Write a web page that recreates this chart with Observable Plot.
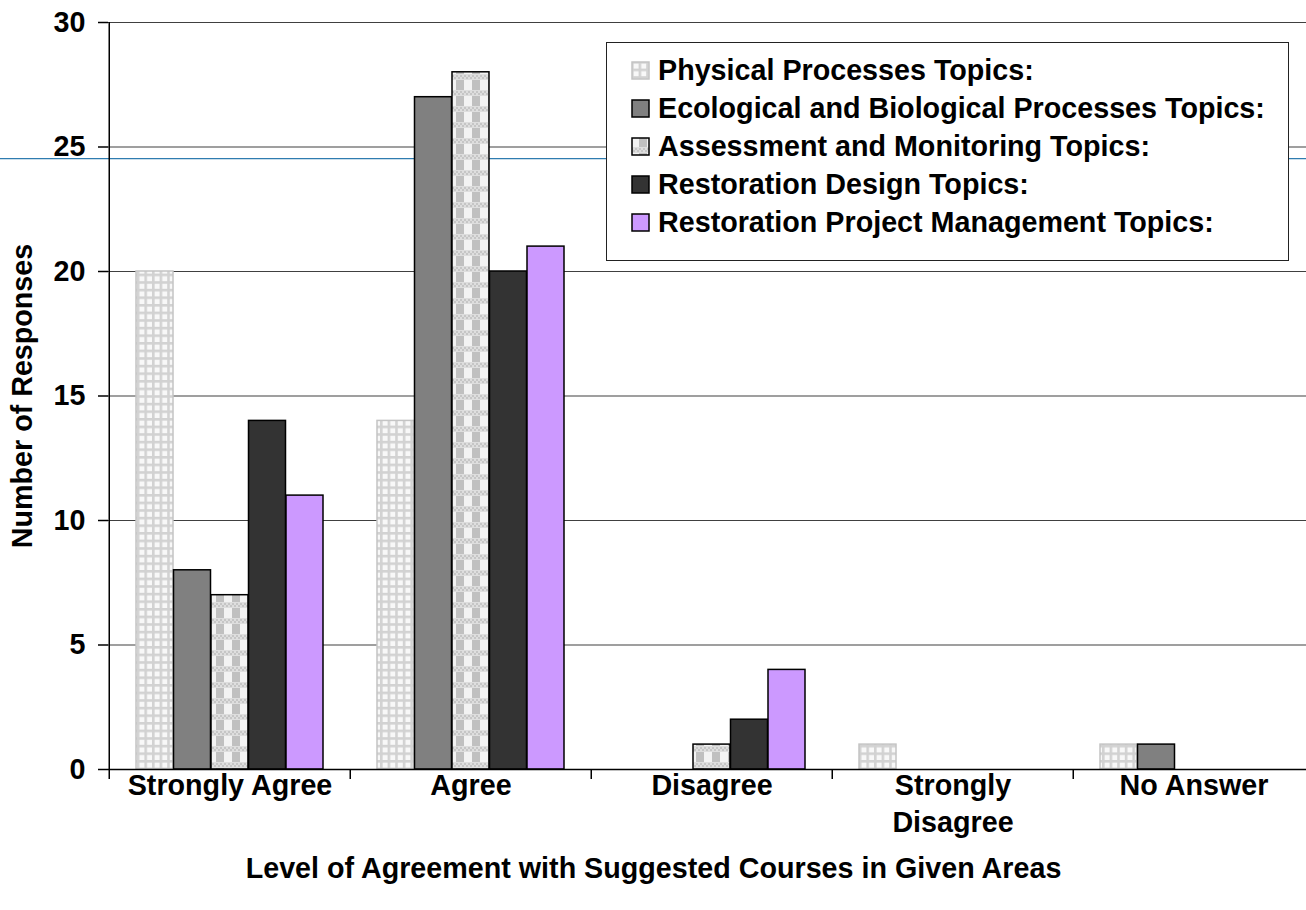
<!DOCTYPE html>
<html><head><meta charset="utf-8">
<script src="https://cdn.jsdelivr.net/npm/d3@7"></script>
<script src="https://cdn.jsdelivr.net/npm/@observablehq/plot@0.6"></script>
<style>
body{margin:0;background:#fff;}
#wrap{position:relative;width:1306px;height:910px;overflow:hidden;background:#fff;}
#legend{position:absolute;left:606px;top:42px;width:681px;height:217px;border:1.5px solid #222;background:#fff;
 font-family:"Liberation Sans",Arial,sans-serif;font-weight:bold;font-size:28.7px;color:#000;}
.row{position:absolute;left:24px;height:36px;display:flex;align-items:center;white-space:nowrap;}
.row svg{margin-right:8px;flex:none}
</style></head>
<body>
<svg width="0" height="0" style="position:absolute">
<defs>
<pattern id="pPhys" patternUnits="userSpaceOnUse" width="7.6" height="7.6">
  <rect width="7.6" height="7.6" fill="#d2d2d2"/>
  <rect x="2.6" y="2.6" width="5" height="5" fill="#f8f8f8"/>
</pattern>
<pattern id="pAssess" patternUnits="userSpaceOnUse" width="16" height="16">
  <rect width="16" height="16" fill="#dedede"/>
  <rect x="0" y="0" width="8" height="10" fill="#f3f3f3"/>
  <rect x="8" y="0" width="8" height="10" fill="#c0c0c0"/>
  <rect x="0" y="11" width="2" height="2" fill="#c6c6c6"/>
  <rect x="4" y="11" width="2" height="2" fill="#c6c6c6"/>
  <rect x="8" y="11" width="2" height="2" fill="#c6c6c6"/>
  <rect x="12" y="11" width="2" height="2" fill="#c6c6c6"/>
  <rect x="2" y="13" width="2" height="2" fill="#c6c6c6"/>
  <rect x="6" y="13" width="2" height="2" fill="#c6c6c6"/>
  <rect x="10" y="13" width="2" height="2" fill="#c6c6c6"/>
  <rect x="14" y="13" width="2" height="2" fill="#c6c6c6"/>
</pattern>
</defs>
</svg>
<div id="wrap"><div id="chart"></div><div id="legend"></div></div>
<script>
// ---- data ----
const categories = ["Strongly Agree", "Agree", "Disagree", "Strongly Disagree", "No Answer"];
const tickLabels = ["Strongly Agree", "Agree", "Disagree", "Strongly\nDisagree", "No Answer"];
const seriesNames = [
  "Physical Processes Topics:",
  "Ecological and Biological Processes Topics:",
  "Assessment and Monitoring Topics:",
  "Restoration Design Topics:",
  "Restoration Project Management Topics:"
];
const physical   = [20, 14, 0, 1, 1];
const ecological = [8, 27, 0, 0, 1];
const assessment = [7, 28, 1, 0, 0];
const design     = [14, 20, 2, 0, 0];
const management = [11, 21, 4, 0, 0];
const yTicks = [0, 5, 10, 15, 20, 25, 30];
const blueLineValue = 24.53;
const xTitle = "Level of Agreement with Suggested Courses in Given Areas";
const yTitle = "Number of Responses";

// ---- styles ----
const seriesValues = [physical, ecological, assessment, design, management];
const fills = ["url(#pPhys)", "#808080", "url(#pAssess)", "#333333", "#cc99ff"];
const strokes = ["#c4c4c4", "#000", "#000", "#000", "#000"];

const W = 1306, H = 910;
const mL = 108, mT = 22, mB = 141, mR = 0;
const xRange = [mL, 1315.5];
const bw = (xRange[1] - xRange[0]) / categories.length;
const pad = 27;
const w = (bw - 2 * pad) / seriesNames.length;

const rows = [];
seriesValues.forEach((vals, s) => vals.forEach((v, c) => rows.push({series: s, category: categories[c], value: v})));

const barMarks = seriesNames.map((name, s) =>
  Plot.barY(rows.filter(d => d.series === s && d.value > 0), {
    x: "category", y: "value",
    fill: fills[s], stroke: strokes[s], strokeWidth: 1.5,
    insetLeft: pad + s * w, insetRight: bw - pad - (s + 1) * w
  })
);

const chart = Plot.plot({
  width: W, height: H,
  marginLeft: mL, marginTop: mT, marginBottom: mB, marginRight: mR,
  style: {fontFamily: "'Liberation Sans', Arial, sans-serif", fontSize: "28.7px", fontWeight: "bold", color: "#000", background: "#fff", overflow: "visible"},
  x: {type: "band", domain: categories, range: xRange, padding: 0, axis: null},
  y: {domain: [0, 30], axis: null},
  marks: [
    Plot.ruleY(yTicks.slice(1), {stroke: "#404040", strokeWidth: 1.2}),
    Plot.ruleY([blueLineValue], {stroke: "#2f7cb0", strokeWidth: 1.3, insetLeft: -mL}),
    ...barMarks,
    Plot.ruleY([0], {stroke: "#000", strokeWidth: 1.6}),
    Plot.ruleX([categories[0]], {x: d => d, dx: -bw / 2, stroke: "#000", strokeWidth: 1.5}),
    Plot.axisY({ticks: yTicks, tickSize: 10, tickPadding: 13, tickFormat: d => String(d), label: null, stroke: "#000", strokeWidth: 1.5}),
    Plot.axisX({tickSize: 10, tickFormat: () => "", dx: -bw / 2, label: null, stroke: "#000", strokeWidth: 1.5}),
    Plot.axisX({tickSize: 0, tickPadding: 0, tickFormat: d => tickLabels[categories.indexOf(d)], lineHeight: 1.27, label: null}),
    Plot.text([xTitle], {text: d => d, frameAnchor: "bottom", dy: 108, dx: -54}),
    Plot.text([yTitle], {text: d => d, frameAnchor: "left", textAnchor: "middle", rotate: -90, dx: -86})
  ]
});
document.getElementById("chart").appendChild(chart);

// ---- legend ----
const legend = document.getElementById("legend");
const rowCenters = [27, 65, 103, 141, 179];
seriesNames.forEach((name, s) => {
  const row = document.createElement("div");
  row.className = "row";
  row.style.top = (rowCenters[s] - 18) + "px";
  const sw = `<svg width="19" height="19"><rect x="1" y="1" width="17" height="17" fill="${fills[s]}" stroke="${strokes[s]}" stroke-width="1.5"/></svg>`;
  row.innerHTML = sw + `<span>${name}</span>`;
  legend.appendChild(row);
});
</script>
</body></html>
